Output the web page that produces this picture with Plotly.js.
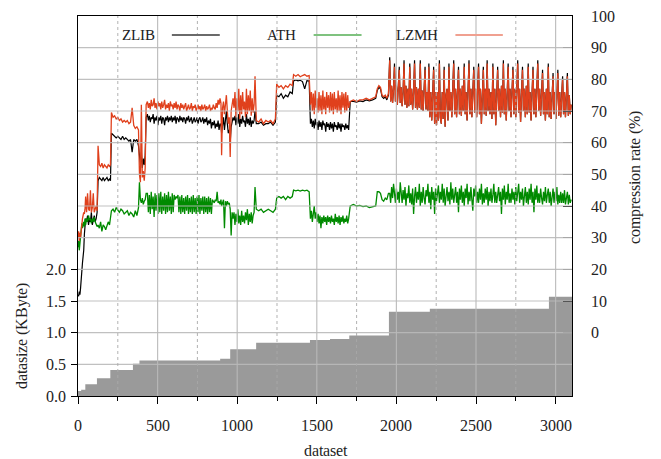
<!DOCTYPE html>
<html>
<head>
<meta charset="utf-8">
<script src="https://cdn.plot.ly/plotly-3.0.1.min.js"></script>
<style>
@font-face { font-family: 'ChartSerif'; src: local('Liberation Serif'), local('LiberationSerif'), local('LiberationSerif-Regular'), local('Liberation Serif Regular'), local('DejaVu Serif'), local('DejaVuSerif'); }
html,body{margin:0;padding:0;background:#fff;}
#chart{width:661px;height:459px;}
#chart text{font-family: ChartSerif, 'Liberation Serif', 'DejaVu Serif', serif !important;}
</style>
</head>
<body>
<div id="chart"></div>
<script>
// dataset index (x) shared by the three compression-rate series
const dataset = [
  0,4,8,12,16,20,24,28,32,36,40,44,48,
  54,60,66,72,78,84,90,96,102,108,114,120,
  126,134,142,150,158,166,174,182,190,198,204,
  210,220,230,240,250,260,270,280,290,300,310,320,330,340,350,360,370,380,
  386,392,398,404,410,416,422,428,
  436,442,448,454,460,466,472,478,484,490,496,502,508,
  514,520,526,532,538,544,550,556,562,568,574,580,586,
  592,598,604,610,616,622,628,634,640,646,652,658,664,
  670,676,682,688,694,700,706,712,718,724,730,736,742,
  748,754,760,766,772,778,784,790,796,802,808,814,820,
  826,832,838,844,850,856,862,868,874,880,886,892,898,
  902,908,914,920,926,932,938,944,950,956,962,968,974,
  980,986,992,998,1004,1010,1016,1022,1028,1034,1040,1046,1052,1058,1064,1070,1076,1082,1088,1094,1100,1106,1112,
  1120,1135,1150,1165,1180,1195,1210,1225,1240,
  1248,1262,1276,1290,1304,1318,1332,1346,
  1354,1368,1382,1396,1410,1424,1438,1452,
  1460,1466,1472,1478,1484,1490,1496,1502,1508,1514,1520,1526,1532,1538,1544,1550,1556,1562,1568,1574,1580,
  1586,1592,1598,1604,1610,1616,1622,1628,1634,1640,1646,1652,1658,1664,1670,1676,1682,1688,1694,1700,
  1710,1730,1750,1770,1790,1810,1830,1850,1870,1880,1890,1900,1910,1920,1930,1940,1950,
  1958,1964,1970,1976,1982,1988,1994,2000,2006,2012,
  2018,2024,2030,2036,2042,2048,2054,2060,2066,2072,
  2078,2084,2090,2096,2102,2108,2114,2120,2126,2132,
  2138,2144,2150,2156,2162,2168,2174,2180,2186,2192,
  2198,2204,2210,2216,2222,2228,2234,2240,2246,2252,
  2258,2264,2270,2276,2282,2288,2294,2300,2306,2312,
  2318,2324,2330,2336,2342,2348,2354,2360,2366,2372,
  2378,2384,2390,2396,2402,2408,2414,2420,2426,2432,
  2438,2444,2450,2456,2462,2468,2474,2480,2486,2492,
  2498,2504,2510,2516,2522,2528,2534,2540,2546,2552,
  2558,2564,2570,2576,2582,2588,2594,2600,2606,2612,
  2618,2624,2630,2636,2642,2648,2654,2660,2666,2672,
  2678,2684,2690,2696,2702,2708,2714,2720,2726,2732,
  2738,2744,2750,2756,2762,2768,2774,2780,2786,2792,
  2798,2804,2810,2816,2822,2828,2834,2840,2846,2852,
  2858,2864,2870,2876,2882,2888,2894,2900,2906,2912,
  2918,2924,2930,2936,2942,2948,2954,2960,2966,2972,
  2978,2984,2990,2996,3002,3008,3014,3020,3026,3032,
  3038,3044,3050,3056,3062,3068,3074,3080,3086,3092,3098
];

// ZLIB compression rate (%)
const zlibRate = [
  12,11.5,13,12,14,18,20,22,24,26,31,34,36,
  35,37,34,36,35,38,34,36,37,35,36,38,
  48,49,48.5,48,49,48,48.5,49,48,48.5,48,
  63,62.5,62,61.5,62,61.5,61,62,61,61.5,61,60.5,61,57,61,60.5,61,59,
  56,53,57,52,55,53,56,68,
  69,67,68.5,66.5,68,67.5,69,66,68,67,68.5,65.5,68,
  67,68.5,66,68,67.5,65.5,68,67,68.5,66.5,68,67,68.5,
  66.5,68,67,68.5,66,68,67.5,66.5,68.5,67,68,66.5,68,
  67.5,66,68,67,68.5,66.5,67.5,68,66,67.5,68,66.5,67,
  68,66,67.5,68,66.5,67,68,66,67.5,66.5,68,65.5,67,
  66,67.5,64.5,66.5,65.5,67,64.5,66,65,67,64,66,65.5,
  63,66,68,64,67,70,66,63,64,60,65,67,68,
  67,68.5,65.5,68,66,69,65,67.5,66,68.5,66.5,67,65,69,66,67.5,65.5,68,65,67,66,67,70,
  66,66,66.5,65.5,66,66,66.5,65.5,66.5,
  75,74.5,75.5,74,75,74.5,76,75.5,
  79.5,79.8,79.5,79.7,79.3,77,79.6,79.5,
  66,67.5,65,67,64.5,67.5,65.5,66.5,64,67,65,66.5,64,67,65.5,66,63.5,66.5,65,66,64,
  66.5,64.5,66,63.5,66.5,65,65.5,64,66.5,64.5,66,63.5,66,65,65.5,64,66,64.5,65.5,64,
  73,73,72.8,73.2,73,73.5,73.2,73.5,74,76.5,77.5,77,74.5,74,74.5,73.5,75,
  87,73,78,72.5,77,85,73,78,72,77,
  84,72.5,77.5,71.5,76,86,72,78,71,77,
  71.5,85,72,77,70.5,76,86,71,77.5,70.5,
  77,71,86,70.5,76.5,70,77,84,70.5,76,
  70,85,68,76,67,77,84,66,76,65.5,
  76,67,86,68,66,76,67.5,84,65,75,
  77,67,85,70,76,68,77,86,69,77,
  68,76,84,69,77,68.5,78,70,85,69,
  76,67,77,86,69,77,68,76,84,69.5,
  77,68,76,85,69,77,66,76,84,69,
  77,68.5,86,70,77,69,76,67.5,85,69,
  77,65.5,76,84,70,77,68,78,69.5,86,
  69,77,67,76,85,70,77,68,76,84,
  69,77,68,76,86,69.5,77,66.5,76,84,
  70,77,68,78,69,85,69.5,76,67,77,
  84,69,77,68,76,86,70,77,68.5,76,
  83,69,76,67,77,69,85,68,76,67.5,
  76,82,69,76,67.5,76,83,68.5,76,68,
  75,81,69,76,68,76,82,68.5,75,69,72
];

// ATH compression rate (%)
const athRate = [
  27,29,26,28.5,30,33,34.5,33,34,35,33.5,36,34,
  36,35,37,35.5,36,34.5,36,35,36.5,35,34,33.5,
  34,33,35,32,34,33.5,32.5,34,35,34,37,
  38.5,39,38,39.5,38.5,38,39,38.5,37.5,38,38.5,37,38,37.5,36.5,38.5,37,39.5,
  47.5,42,41,42.5,40.5,41.5,42,44,
  44,38,43.5,37.5,44.5,39,43,36.5,44,38.5,43.5,37.5,44,
  38,44.5,37.5,43,38.5,44,37.5,43.5,38,44.5,38.5,43,37.5,
  44,38,43.5,42,43,42.5,43.5,38,43,37.5,43.5,38,42.5,
  37.5,43,38.5,43.5,37.5,42.5,38,43,37.5,43.5,38,42.5,37.5,
  43,38,43.5,37.5,42.5,38.5,43,37.5,43,38,42.5,37.5,43,
  38,42.5,37.5,42,41.5,41,42,41.5,44.5,41,41.5,40.5,42,
  40,41,42,33,41.5,40,41.5,40.5,41,39,30.7,38,36,
  38,34,37.5,35,39,34.5,37,34,38.5,35,37,34.5,38,35.5,39,34,37.5,35,38,34.5,37,38,46,
  39,38.5,39,38,38.5,39,38.5,38,39,
  42.5,43,42.5,43,42,43,42.5,43,
  45,44.8,45,44.7,45,44.8,45,44.5,
  36,38.5,35,37.5,40,36,38,35,37.5,34.5,37,33,36.5,34.5,37,35,36.5,34,37,35,36.5,
  34.5,37,35,36,34,37.5,35,36.5,34.5,37,34,36.5,35,37,34.5,36,35,37,34.5,36,
  40,40.5,40,40.2,39.8,40,39.5,39.8,40,44.5,44.5,44,42,41.5,42.5,42,44,
  44,41,46,42.5,47,43,41,45.5,42,44.5,
  41,47.5,43,41,45,42,46,40,44,42.5,
  46.5,41,44,40.5,45.5,37.5,43,46,41,44.5,
  42,47,40,44.5,41,46,42.5,40.5,45,43,
  47,41,44.5,39,46,42,44.5,37.5,45.5,41.5,
  44,46.5,41,44.5,42,47,41,45.5,40,43.5,
  46,41.5,44.5,40.5,47.5,42,45.5,41,44,46,
  41,44.5,38,45.5,42,46.5,41,44.5,40,45.5,
  42.5,47,40.5,44.5,41.5,46,42,38.5,45.5,43,
  46.5,41,44.5,41,45.5,42,47,40.5,44,41,
  45.5,42,46,40,44.5,41.5,45.5,41,43.5,47,
  41,44.5,41,43.5,46,41.5,44.5,37.5,45.5,42,
  46.5,40.5,44.5,42,47,41,44,41,45.5,42,
  44.5,40.5,46,41.5,43.5,47,41,44.5,42,45.5,
  40,44,46,41,44.5,40.5,45.5,42,47,41,
  44.5,38,45.5,42,46.5,41,44,41,45.5,42.5,
  40.5,44.5,41.5,46,41,43.5,45.5,41,44.5,40,
  43.5,45.5,41,44.5,41.5,46,40.5,43.5,41,44.5,
  41,44,41,45,40.5,42.5,44.5,40.5,43.5,41,42
];

// LZMH compression rate (%)
const lzmhRate = [
  30,32,29,31.5,30,33,35,36,37,38,37.5,39,43,
  38,44,39,38.5,45,38,39.5,44,38,39,40,38.5,
  59,53,52.5,53.5,52,53,52.5,52,53,52.5,53,
  69.5,68,68.5,67.5,68,67,67.5,66.5,67,66.5,67,66,66.5,71,65.5,64.5,65,64,
  50,47.5,72,49,51,48,52,72,
  73,71,72.5,70.5,73.5,71.5,72,74,71,72.5,70.5,73,71.5,
  72.5,70.5,73,71,72,73.5,70.5,72,71,72.5,70,73,71.5,
  72,70.5,72.5,71,73,70.5,72,71.5,70,72.5,71,72,70.5,
  71.5,72.5,70,71.5,72,70.5,71,72.5,70,71.5,71,72,70,
  71,72,70.5,71.5,70,72,70.5,71,72,70,71.5,70.5,71,
  72,70,71,70.5,72,71,70.5,72.5,71,73.5,72,74,72.5,
  56,71,73,69,72,75,70,66,68,55.5,70,72,74,
  71,76,68,74,70,77,67.5,75,69,76,70.5,73,68,77,69,75,70,76.5,68.5,74,69.5,72,81,
  67,66.5,67.5,66,67,66.5,67,66,67.5,
  78.5,77.5,78,77,78,77.5,78.5,78,
  81.5,81,81.5,80.8,81.2,81.5,81,81.2,
  72,76,70,75.5,69,76.5,71,74,69.5,76,70,75,69,76.5,70.5,74.5,69,76,71,75,69.5,
  76,70,75.5,69,76,70.5,74,69.5,76.5,70,75,69,76,71,75.5,69.5,76,70,75,71,
  73,73.5,73,73.5,73.5,74,73.5,74,74.5,77,78,77.5,75,74.5,75,74,75.5,
  86,73,78,72.5,77,84,73,78,72,77,
  83,72.5,77.5,71.5,76,85,72,78,71,77,
  71.5,84,72,77,70.5,76,85,71,77.5,70.5,
  77,71,85,70.5,76.5,70,77,83,70.5,76,
  70,84,68,76,67,77,83,66,76,65.5,
  76,67,85,68,66,76,67.5,83,65,75,
  77,67,84,70,76,68,77,85,69,77,
  68,76,83,69,77,68.5,78,70,84,69,
  76,67,77,85,69,77,68,76,83,69.5,
  77,68,76,84,69,77,66,76,83,69,
  77,68.5,85,70,77,69,76,67.5,84,69,
  77,65.5,76,83,70,77,68,78,69.5,85,
  69,77,67,76,84,70,77,68,76,83,
  69,77,68,76,85,69.5,77,66.5,76,83,
  70,77,68,78,69,84,69.5,76,67,77,
  83,69,77,68,76,85,70,77,68.5,76,
  82,69,76,67,77,69,84,68,76,67.5,
  76,81,69,76,67.5,76,82,68.5,76,68,
  75,80,69,76,68,76,81,68.5,75,69,72
];

// datasize (KByte), step function
const sizeDataset = [0, 20, 46, 119, 203, 345, 386, 893, 956, 1119, 1457, 1583, 1704, 1953, 2210, 2958, 3103];
const sizeKByte   = [0.08, 0.1, 0.185, 0.28, 0.41, 0.51, 0.56, 0.59, 0.74, 0.84, 0.885, 0.9, 0.955, 1.33, 1.376, 1.566, 1.566];

// ticks
const xTicks = [0, 500, 1000, 1500, 2000, 2500, 3000];
const xMinorGrid = [250, 750, 1250, 1750, 2250, 2750];
const sizeTicks = [0, 0.5, 1.0, 1.5, 2.0];
const sizeTickText = ['0.0', '0.5', '1.0', '1.5', '2.0'];
const rateTicks = [0, 10, 20, 30, 40, 50, 60, 70, 80, 90, 100];
const rateGrid = [-10, 0, 10, 20, 30, 40, 50, 60, 70, 80, 90];

const seriesNames = ['ZLIB', 'ATH', 'LZMH'];
const seriesColors = ['#000000', '#008a00', '#e0401c'];
const legendColors = ['#6a6a6a', '#7fc27f', '#f0a090'];

const FONT = "ChartSerif, 'Liberation Serif', 'DejaVu Serif', serif";

const traces = [
  {x: sizeDataset, y: sizeKByte, type: 'scatter', mode: 'lines', line: {shape: 'hv', width: 0, color: '#9a9a9a'},
   fill: 'tozeroy', fillcolor: '#9a9a9a', yaxis: 'y', hoverinfo: 'skip'},
  {x: dataset, y: zlibRate, type: 'scatter', mode: 'lines', name: seriesNames[0], line: {color: seriesColors[0], width: 1.2}, yaxis: 'y2'},
  {x: dataset, y: athRate, type: 'scatter', mode: 'lines', name: seriesNames[1], line: {color: seriesColors[1], width: 1.3}, yaxis: 'y2'},
  {x: dataset, y: lzmhRate, type: 'scatter', mode: 'lines', name: seriesNames[2], line: {color: seriesColors[2], width: 1.3}, yaxis: 'y2'}
];

const shapes = [];
rateGrid.forEach(v => shapes.push({type: 'line', xref: 'paper', x0: 0, x1: 1, yref: 'y2', y0: v, y1: v,
  line: {color: 'rgba(185,185,185,0.9)', width: 1.2}, layer: 'above'}));
xTicks.slice(1).forEach(v => shapes.push({type: 'line', xref: 'x', x0: v, x1: v, yref: 'paper', y0: 0, y1: 1,
  line: {color: 'rgba(185,185,185,0.9)', width: 1.2}, layer: 'above'}));
xMinorGrid.forEach(v => shapes.push({type: 'line', xref: 'x', x0: v, x1: v, yref: 'paper', y0: 0, y1: 1,
  line: {color: 'rgba(170,170,170,0.9)', width: 1, dash: 'dot'}, layer: 'above'}));

// legend (text left of line sample)
const legTextX = [0.122, 0.412, 0.686];
const legLineX0 = [0.190, 0.477, 0.764];
const legLineX1 = [0.287, 0.574, 0.860];
const legY = 0.95;
const annotations = [];
seriesNames.forEach((n, i) => {
  annotations.push({xref: 'paper', yref: 'paper', x: legTextX[i], y: legY, text: n, showarrow: false,
    font: {family: FONT, size: 15, color: '#222'}, xanchor: 'center', yanchor: 'middle'});
  shapes.push({type: 'line', xref: 'paper', yref: 'paper', x0: legLineX0[i], x1: legLineX1[i], y0: legY, y1: legY,
    line: {color: legendColors[i], width: 2}, layer: 'above'});
});
annotations.push({xref: 'paper', yref: 'y', x: -0.114, y: 0.95, text: 'datasize (KByte)', textangle: -90, showarrow: false,
  font: {family: FONT, size: 16, color: '#222'}, xanchor: 'center', yanchor: 'middle'});
annotations.push({xref: 'paper', yref: 'y2', x: 1.1275, y: 49, text: 'compression rate (%)', textangle: -90, showarrow: false,
  font: {family: FONT, size: 16, color: '#222'}, xanchor: 'center', yanchor: 'middle'});

const layout = {
  width: 661, height: 459,
  margin: {l: 78, r: 89, t: 16, b: 63, pad: 0},
  paper_bgcolor: '#fff', plot_bgcolor: '#fff',
  showlegend: false,
  font: {family: FONT, size: 16, color: '#222'},
  xaxis: {
    range: [0, 3103], tickvals: xTicks, ticks: 'outside', ticklen: 7, tickwidth: 1, tickcolor: '#000',
    minor: {tickvals: xMinorGrid, ticks: 'outside', ticklen: 4, tickcolor: '#000', showgrid: false},
    showgrid: false, zeroline: false, showline: true, linecolor: '#000', linewidth: 1.3, mirror: true,
    title: {text: 'dataset', font: {family: FONT, size: 16, color: '#222'}, standoff: 14},
    tickfont: {family: FONT, size: 16, color: '#222'}, ticklabelstandoff: 7
  },
  yaxis: {
    range: [0, 6], tickvals: sizeTicks, ticktext: sizeTickText, ticks: 'outside', ticklen: 6, tickcolor: '#000',
    showgrid: false, zeroline: false, showline: true, linecolor: '#000', linewidth: 1.3,
    tickfont: {family: FONT, size: 16, color: '#222'}, ticklabelstandoff: 2
  },
  yaxis2: {
    range: [-20, 100], tickvals: rateTicks, overlaying: 'y', side: 'right', ticks: 'inside', ticklen: 9, tickcolor: '#000',
    showgrid: false, zeroline: false, showline: true, linecolor: '#000', linewidth: 1.3,
    tickfont: {family: FONT, size: 16, color: '#222'}, ticklabelstandoff: 14
  },
  shapes: shapes,
  annotations: annotations
};

Plotly.newPlot('chart', traces, layout, {staticPlot: true, displayModeBar: false});
</script>
</body>
</html>
